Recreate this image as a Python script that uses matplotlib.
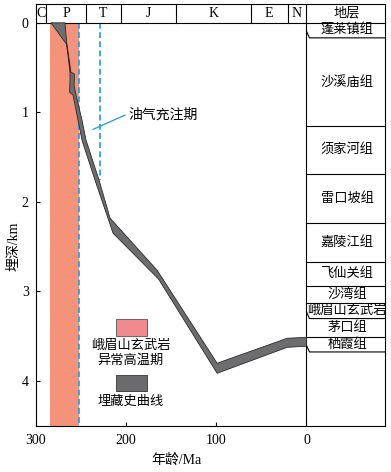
import matplotlib
matplotlib.use("Agg")
import matplotlib.pyplot as plt

plt.rcParams['font.family'] = ['Liberation Serif', 'Noto Sans CJK SC']
plt.rcParams['axes.unicode_minus'] = False

# 埋藏史曲线 (上边界 / 下边界), 年龄 Ma, 深度 km
upper_age = [267.5, 265.9, 260.9, 257.0, 257.5, 255.3, 248.7, 244.2, 229.8,
             217.6, 165.5, 99.0, 21.4, 0.0]
upper_depth = [0.0, 0.204, 0.551, 0.573, 0.696, 0.808, 1.087, 1.311, 1.757,
               2.182, 2.763, 3.802, 3.523, 3.512]
lower_age = [0.0, 21.4, 99.0, 164.0, 214.3, 234.3, 248.7, 253.1, 258.6,
             262.5, 262.0, 262.0, 264.2, 265.9, 283.0]
lower_depth = [3.612, 3.624, 3.914, 2.86, 2.350, 1.757, 1.311, 1.087, 0.808,
               0.774, 0.640, 0.562, 0.361, 0.238, 0.0]

# 峨眉山玄武岩异常高温期
hot_start, hot_end = 284, 252
# 油气充注期
charge_ages = [252, 228.6]
charge_bottom = [4.5, 1.76]

# 地质年代
periods = ['C', 'P', 'T', 'J', 'K', 'E', 'N']
period_bounds = [300, 289, 244, 206, 145, 62, 21, 0]

# 地层
formations = ['蓬莱镇组', '沙溪庙组', '须家河组', '雷口坡组', '嘉陵江组', '飞仙关组',
              '沙湾组', '峨眉山玄武岩', '茅口组', '栖霞组']
form_bounds = [0, 0.168, 1.154, 1.683, 2.241, 2.670, 2.942, 3.128, 3.303, 3.508, 3.676]
unconformity = [True, False, False, False, False, False, False, True, False, True]

x_right = -87
head = -0.21
col_mid = -45

fig = plt.figure(figsize=(3.91, 4.72), dpi=100)
ax = fig.add_axes([0.0913, 0.098, 0.8934, 0.8935])
ax.set_xlim(300, x_right)
ax.set_ylim(4.5, head)

# 高温期色带
ax.fill_between([hot_start, hot_end], 0, 4.5, color='#f4937a', lw=0, zorder=1)

# 充注期虚线
for a, b in zip(charge_ages, charge_bottom):
    ax.plot([a, a], [0, b], color='#1e9be0', lw=1.2, dashes=(3.5, 2), zorder=2)

# 埋藏史曲线
ax.fill(upper_age + lower_age, upper_depth + lower_depth,
        facecolor='#6d6d6f', edgecolor='#2b2b2b', lw=0.6, zorder=3)

# 标注
ax.plot([236.4, 201], [1.19, 1.03], color='#1e9be0', lw=0.9, zorder=4)
ax.text(197.5, 1.03, '油气充注期', fontsize=10, va='center', ha='left')

# 图例
ax.fill([211.3, 176.9, 176.9, 211.3], [3.31, 3.31, 3.497, 3.497],
        facecolor='#f08a8f', edgecolor='#555555', lw=0.6, zorder=4)
ax.text(195, 3.61, '峨眉山玄武岩', fontsize=9.5, ha='center', va='center')
ax.text(195, 3.77, '异常高温期', fontsize=9.5, ha='center', va='center')
ax.fill([211.3, 176.9, 176.9, 211.3], [3.928, 3.928, 4.115, 4.115],
        facecolor='#6b6b6e', edgecolor='#333333', lw=0.6, zorder=4)
ax.text(194.3, 4.235, '埋藏史曲线', fontsize=9.5, ha='center', va='center')

# 表头
ax.axhline(0, color='k', lw=0.8)
for b in period_bounds[1:-1]:
    ax.plot([b, b], [head, 0], color='k', lw=0.8)
ax.axvline(0, color='k', lw=0.8)
for i, p in enumerate(periods):
    ax.text((period_bounds[i] + period_bounds[i + 1]) / 2, head / 2, p,
            fontsize=10, ha='center', va='center')
ax.text(col_mid, head / 2, '地层', fontsize=9.5, ha='center', va='center')

# 地层柱
for i, name in enumerate(formations):
    top, bot = form_bounds[i], form_bounds[i + 1]
    if unconformity[i]:
        ax.plot([0, -3.3, x_right], [bot - 0.075, bot, bot], color='k', lw=0.8)
    else:
        ax.plot([0, x_right], [bot, bot], color='k', lw=0.8)
    ax.text(col_mid, (top + bot) / 2, name, fontsize=9.5, ha='center', va='center')

ax.set_xticks([300, 200, 100, 0])
ax.set_yticks([0, 1, 2, 3, 4])
ax.tick_params(direction='in', length=3, width=0.8, labelsize=10)
ax.tick_params(axis='x', pad=6)
ax.tick_params(axis='y', pad=5)
for s in ax.spines.values():
    s.set_linewidth(0.8)

fig.text(176.7 / 391, 1 - 460 / 472, '年龄/Ma', fontsize=10, ha='center', va='center')
fig.text(14 / 391, 1 - 246 / 472, '埋深/km', fontsize=10, ha='center', va='center',
         rotation=90)

fig.savefig('out.png', dpi=100)
